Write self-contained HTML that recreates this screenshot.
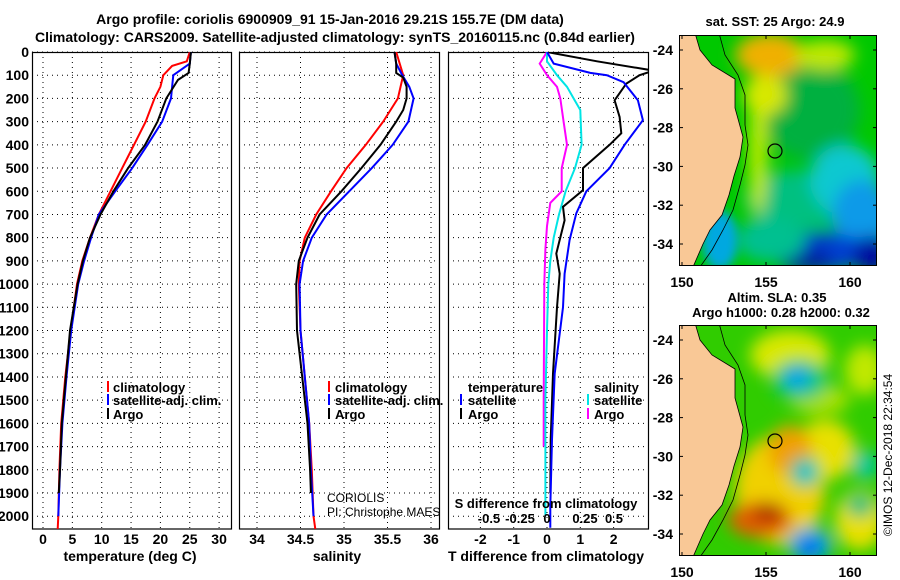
<!DOCTYPE html>
<html><head><meta charset="utf-8">
<style>
html,body{margin:0;padding:0;background:#fff;}
svg{display:block;font-family:"Liberation Sans",sans-serif;}
.b{font-weight:bold;font-size:13px;}
.d{font-weight:bold;font-size:14px;}
.t{font-weight:bold;font-size:14px;}
</style></head>
<body>
<svg id="fig" width="900" height="580" viewBox="0 0 900 580" xmlns="http://www.w3.org/2000/svg">
<defs>
<clipPath id="c1"><rect x="32" y="52" width="199" height="477"/></clipPath>
<clipPath id="c2"><rect x="239" y="52" width="200" height="477"/></clipPath>
<clipPath id="c3"><rect x="448" y="52" width="200" height="477"/></clipPath>
<clipPath id="m1"><rect x="679" y="35" width="198" height="231"/></clipPath>
<clipPath id="m2"><rect x="679" y="325" width="198" height="231"/></clipPath>
<filter id="bl" x="-50%" y="-50%" width="200%" height="200%"><feGaussianBlur stdDeviation="8"/></filter>
<filter id="bl2" x="-50%" y="-50%" width="200%" height="200%"><feGaussianBlur stdDeviation="5"/></filter>
</defs>
<text class="t" x="330" y="24" text-anchor="middle">Argo profile: coriolis 6900909_91 15-Jan-2016 29.21S 155.7E (DM data)</text>
<text class="t" x="335" y="42" text-anchor="middle">Climatology: CARS2009. Satellite-adjusted climatology: synTS_20160115.nc (0.84d earlier)</text>
<g id="grid"></g>
<g id="series"></g>
<g id="labels"></g>
<g id="maps"></g>
</svg>
<script>
// ---- data ----
const depthTicks=[0,100,200,300,400,500,600,700,800,900,1000,1100,1200,1300,1400,1500,1600,1700,1800,1900,2000];
const tempTicks=[0,5,10,15,20,25,30];
const salTicks=[34,34.5,35,35.5,36];
const dTTicks=[-2,-1,0,1,2];
const climTD=[0,40,60,100,150,200,300,400,500,600,700,800,900,1000,1200,1400,1600,1800,2000,2055];
const climT=[25,24.5,22,20.5,20,19,17.5,15.5,13.5,11.5,9.5,8,6.7,5.8,4.7,3.8,3.1,2.8,2.6,2.5];
const satTD=[0,50,100,150,200,300,400,500,600,700,800,900,1000,1200,1400,1600,1800,2000];
const satT=[25.2,25,22.2,22,21.8,20.3,17.8,15.2,12.3,9.5,8.2,7,6,4.8,4,3.3,2.9,2.6];
const argoTD=[0,50,90,120,200,300,400,500,600,700,800,900,1000,1200,1400,1600,1800,1900];
const argoT=[25.2,25,24.8,23,21,19.5,17.4,14.5,12,9.8,8,6.8,5.9,4.6,3.9,3.2,2.9,2.7];
const climSD=[0,100,200,300,400,500,600,700,800,900,1000,1200,1400,1600,1800,2000,2055];
const climS=[35.6,35.68,35.62,35.45,35.25,35.03,34.85,34.68,34.55,34.49,34.48,34.5,34.55,34.6,34.63,34.65,34.67];
const satSD=[0,50,100,150,200,300,400,500,600,700,800,900,1000,1200,1400,1600,1800,2000];
const satS=[35.58,35.6,35.67,35.75,35.8,35.74,35.56,35.32,35.06,34.8,34.63,34.53,34.49,34.5,34.55,34.6,34.62,34.65];
const argoSD=[0,50,90,110,150,200,250,300,400,500,600,700,800,900,1000,1200,1400,1600,1800,1900];
const argoS=[35.58,35.6,35.6,35.68,35.72,35.72,35.68,35.6,35.42,35.2,34.97,34.72,34.58,34.48,34.45,34.46,34.52,34.58,34.61,34.62];
const dTsatD=[0,50,90,100,130,208,294,400,500,600,695,810,955,1100,1385,1670,1960,2050];
const dTsat=[0,0.2,1.3,1.8,2.3,2.73,2.88,2.33,1.88,1.18,0.88,0.68,0.53,0.48,0.23,0.15,0.1,0.1];
const dTargoD=[0,40,80,100,136,208,280,350,400,500,595,667,725,868,955,1100,1385,1670,1900];
const dTargo=[0,1.5,3.2,2.78,2.38,2.03,2.18,2.23,1.88,1.08,1.08,0.48,0.53,0.28,0.38,0.3,0.18,0.11,0.1];
const dSsatD=[0,40,100,150,200,250,400,500,600,700,800,900,1000,1200,1500,2000];
const dSsat=[0,0,0.075,0.15,0.2,0.25,0.26,0.21,0.14,0.09,0.05,0.025,0.01,0,-0.012,-0.012];
const dSargoD=[0,50,100,150,200,300,400,500,600,650,750,850,1000,1500,1700];
const dSargo=[0,-0.055,0,0.075,0.1,0.125,0.15,0.11,0.11,0.025,0,-0.012,-0.02,-0.025,-0.025];

// ---- scales ----
const yD=d=>52+d*0.2321;
const xT=t=>43+t*5.87;
const xS=s=>257+(s-34)*87;
const xdT=t=>547+t*33.3;
const xdS=s=>547+s*133.2;
const NS="http://www.w3.org/2000/svg";
function mk(tag,at,parent){const e=document.createElementNS(NS,tag);for(const k in at)e.setAttribute(k,at[k]);parent.appendChild(e);return e;}
const G=document.getElementById('grid'),S=document.getElementById('series'),L=document.getElementById('labels');

const panels=[{x:32,w:199,vt:tempTicks,xf:xT,name:'temperature-panel'},{x:239,w:200,vt:salTicks,xf:xS,name:'salinity-panel'},{x:448,w:200,vt:dTTicks,xf:xdT,name:'difference-panel'}];
panels.forEach(p=>{
  depthTicks.forEach(d=>{const l=mk('line',{x1:p.x,x2:p.x+p.w,y1:yD(d),y2:yD(d),stroke:'#000','stroke-dasharray':'1,4','stroke-width':1},G);
  
  });
  p.vt.forEach(v=>{const l=mk('line',{x1:p.xf(v),x2:p.xf(v),y1:52,y2:529,stroke:'#000','stroke-dasharray':'1,4','stroke-width':1},G);
  
  });
  const r=mk('rect',{x:p.x+0.5,y:52.5,width:p.w,height:476.5,fill:'none',stroke:'#000','stroke-width':1.2},G);
  
  
});
depthTicks.forEach(d=>{const t=mk('text',{x:29,y:yD(d)+5,'text-anchor':'end',class:'d'},L);t.textContent=d;

});
tempTicks.forEach(v=>{const t=mk('text',{x:xT(v),y:544,'text-anchor':'middle',class:'d'},L);t.textContent=v;

});
salTicks.forEach(v=>{const t=mk('text',{x:xS(v),y:544,'text-anchor':'middle',class:'d'},L);t.textContent=v;

});
dTTicks.forEach(v=>{const t=mk('text',{x:xdT(v),y:544,'text-anchor':'middle',class:'d'},L);t.textContent=v;

});
[['-0.5',489],['-0.25',520],['0',547],['0.25',585],['0.5',614]].forEach(a=>{const t=mk('text',{x:a[1],y:523,'text-anchor':'middle',class:'b'},L);t.textContent=a[0];

});

function line(xs,ds,xf,col,clip,name,w){
  const pts=xs.map((v,i)=>xf(v).toFixed(1)+','+yD(ds[i]).toFixed(1)).join(' ');
  const e=mk('polyline',{points:pts,fill:'none',stroke:col,'stroke-width':w||2,'clip-path':'url(#'+clip+')'},S);
  
  
}
line(climT,climTD,xT,'#ff0000','c1','climatology-temperature-line');
line(satT,satTD,xT,'#0000ff','c1','satellite-temperature-line');
line(argoT,argoTD,xT,'#000','c1','argo-temperature-line');
line(climS,climSD,xS,'#ff0000','c2','climatology-salinity-line');
line(satS,satSD,xS,'#0000ff','c2','satellite-salinity-line');
line(argoS,argoSD,xS,'#000','c2','argo-salinity-line');
line(dSargo,dSargoD,xdS,'#ff00ff','c3','argo-s-diff-line');
line(dSsat,dSsatD,xdS,'#00e5e5','c3','satellite-s-diff-line');
line(dTargo,dTargoD,xdT,'#000','c3','argo-t-diff-line');
line(dTsat,dTsatD,xdT,'#0000ff','c3','satellite-t-diff-line');
</script>
<script>
(function(){
const L=document.getElementById('labels');
const html=`
<text class="d" x="130" y="561" text-anchor="middle">temperature (deg C)</text>
<text class="d" x="337" y="561" text-anchor="middle">salinity</text>
<text class="d" x="546" y="561" text-anchor="middle">T difference from climatology</text>
<text class="b" x="546" y="508" text-anchor="middle">S difference from climatology</text>
<g>
<rect x="107" y="381" width="2" height="11" fill="#f00"/><text class="b" x="113" y="392">climatology</text>
<rect x="107" y="394" width="2" height="11" fill="#00f"/><text class="b" x="113" y="405">satellite-adj. clim.</text>
<rect x="107" y="408" width="2" height="11" fill="#000"/><text class="b" x="113" y="419">Argo</text></g>
<g>
<rect x="328" y="381" width="2" height="11" fill="#f00"/><text class="b" x="335" y="392">climatology</text>
<rect x="328" y="394" width="2" height="11" fill="#00f"/><text class="b" x="335" y="405">satellite-adj. clim.</text>
<rect x="328" y="408" width="2" height="11" fill="#000"/><text class="b" x="335" y="419">Argo</text></g>
<g>
<text class="b" x="468" y="392">temperature</text>
<rect x="460" y="394" width="2" height="11" fill="#00f"/><text class="b" x="468" y="405">satellite</text>
<rect x="460" y="408" width="2" height="11" fill="#000"/><text class="b" x="468" y="419">Argo</text>
<text class="b" x="594" y="392">salinity</text>
<rect x="587" y="394" width="2" height="11" fill="#00e5e5"/><text class="b" x="594" y="405">satellite</text>
<rect x="587" y="408" width="2" height="11" fill="#f0f"/><text class="b" x="594" y="419">Argo</text></g>
<text x="327" y="502" style="font-size:12px">CORIOLIS</text>
<text x="327" y="516" style="font-size:12px">PI: Christophe MAES</text>`;
L.insertAdjacentHTML('beforeend',html);
const M=document.getElementById('maps');
const land=(oy)=>`<polygon points="679,${oy-2} 695,${oy-2} 700,${oy+15} 712,${oy+30} 735,${oy+44} 735,${oy+73} 743,${oy+102} 740,${oy+122} 734,${oy+141} 729,${oy+160} 722,${oy+180} 710,${oy+195} 703,${oy+209} 693,${oy+232} 679,${oy+232}" fill="#f9c896" stroke="#000" stroke-width="0.8"/>
<polyline points="719,${oy-2} 725,${oy+20} 738,${oy+40} 745,${oy+60} 745,${oy+90} 748,${oy+110} 745,${oy+130} 740,${oy+150} 733,${oy+175} 723,${oy+195} 712,${oy+215} 700,${oy+232}" fill="none" stroke="#000" stroke-width="0.8"/>`;
const ticks=(oy)=>{let s='';[-24,-26,-28,-30,-32,-34].forEach((v,i)=>{const y=oy+15+i*38.8;s+=`<text class="d" x="673" y="${y+5}" text-anchor="end">${v}</text><line x1="679" x2="683" y1="${y}" y2="${y}" stroke="#000"/><line x1="873" x2="877" y1="${y}" y2="${y}" stroke="#000"/>`;});
[150,155,160].forEach((v,i)=>{const x=682+i*84;s+=`<text class="d" x="${x}" y="${oy+252}" text-anchor="middle">${v}</text><line x1="${x}" x2="${x}" y1="${oy+231}" y2="${oy+227}" stroke="#000"/><line x1="${x}" x2="${x}" y1="${oy}" y2="${oy+4}" stroke="#000"/>`;});return s;};
M.insertAdjacentHTML('beforeend',`
<text class="b" x="775" y="26" text-anchor="middle">sat. SST: 25 Argo: 24.9</text>
<g clip-path="url(#m1)">
<rect x="679" y="35" width="198" height="231" fill="#00c800"/>
<g filter="url(#bl)">
<ellipse cx="810" cy="110" rx="50" ry="50" fill="#00b040"/>
<ellipse cx="800" cy="200" rx="55" ry="30" fill="#00c080"/>
<ellipse cx="845" cy="180" rx="35" ry="35" fill="#10c8d0"/>
<ellipse cx="862" cy="215" rx="30" ry="35" fill="#0a9ae8"/>
<ellipse cx="820" cy="252" rx="50" ry="20" fill="#0040d0"/>
<ellipse cx="805" cy="260" rx="28" ry="12" fill="#0020a0"/>
<ellipse cx="872" cy="255" rx="18" ry="20" fill="#0010a0"/>
<ellipse cx="770" cy="240" rx="35" ry="22" fill="#00c090"/>
<ellipse cx="758" cy="150" rx="9" ry="65" fill="#c8ec00"/>
<ellipse cx="770" cy="55" rx="35" ry="22" fill="#f0b000"/>
<ellipse cx="825" cy="55" rx="30" ry="15" fill="#c0e800"/>
<ellipse cx="765" cy="95" rx="22" ry="20" fill="#d8e800"/>
</g>
<ellipse cx="720" cy="240" rx="18" ry="30" fill="#00a8e0" filter="url(#bl2)"/>
${land(35)}
<circle cx="775" cy="151" r="7" fill="none" stroke="#000" stroke-width="1.2"/>
</g>
<rect x="679.5" y="35.5" width="197" height="230" fill="none" stroke="#000"/>
${ticks(35)}
<text class="b" x="777" y="302" text-anchor="middle">Altim. SLA: 0.35</text>
<text class="b" x="781" y="317" text-anchor="middle">Argo h1000: 0.28 h2000: 0.32</text>
<g clip-path="url(#m2)">
<rect x="679" y="325" width="198" height="231" fill="#30cc00"/>
<g filter="url(#bl)">
<ellipse cx="790" cy="355" rx="40" ry="25" fill="#d8e800"/>
<ellipse cx="780" cy="490" rx="45" ry="55" fill="#f0d000"/>
<ellipse cx="825" cy="450" rx="30" ry="30" fill="#e8e000"/>
<ellipse cx="790" cy="450" rx="22" ry="25" fill="#f0a000"/>
<ellipse cx="760" cy="520" rx="32" ry="18" fill="#e06000"/>
<ellipse cx="768" cy="512" rx="16" ry="10" fill="#b03000"/>
<ellipse cx="860" cy="520" rx="25" ry="30" fill="#e8e000"/>
<ellipse cx="865" cy="370" rx="20" ry="25" fill="#c0e800"/>
<ellipse cx="820" cy="400" rx="30" ry="15" fill="#a8e000"/>
<ellipse cx="800" cy="380" rx="28" ry="20" fill="#00c880"/>
<ellipse cx="797" cy="378" rx="12" ry="11" fill="#10a0f0"/>
<ellipse cx="805" cy="472" rx="15" ry="15" fill="#00c890"/>
<ellipse cx="805" cy="472" rx="8" ry="8" fill="#20c0e0"/>
<ellipse cx="865" cy="465" rx="13" ry="15" fill="#00c8a0"/>
<ellipse cx="810" cy="545" rx="22" ry="18" fill="#00a8e0"/>
<ellipse cx="810" cy="548" rx="11" ry="9" fill="#1060f0"/>
<ellipse cx="860" cy="505" rx="14" ry="12" fill="#00c080"/>
</g>
${land(325)}
<circle cx="775" cy="441" r="7" fill="none" stroke="#000" stroke-width="1.2"/>
</g>
<rect x="679.5" y="325.5" width="197" height="230" fill="none" stroke="#000"/>
${ticks(325)}
<text x="892" y="455" text-anchor="middle" transform="rotate(-90 892 455)" style="font-size:12px">©IMOS 12-Dec-2018 22:34:54</text>
`);
})();
</script>
</body></html>
